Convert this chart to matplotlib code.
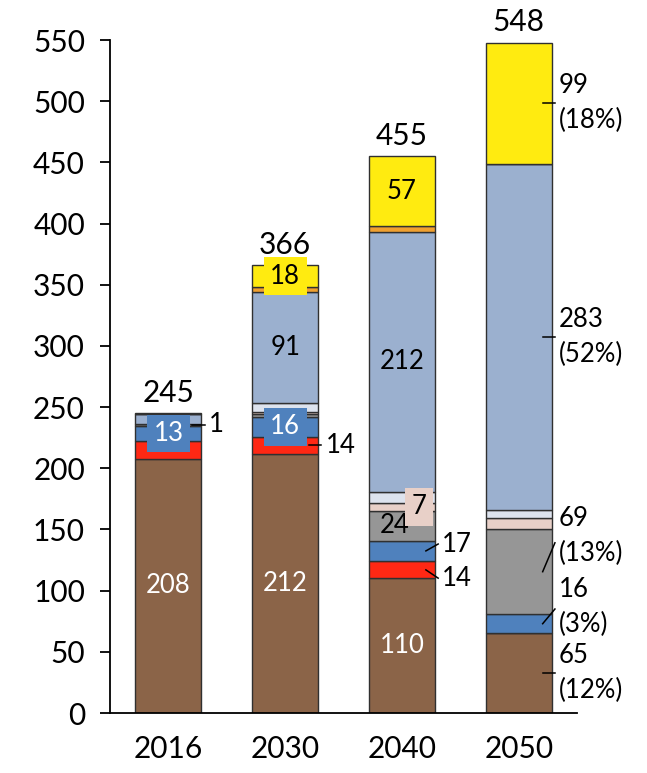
import matplotlib.pyplot as plt
import numpy as np

plt.rcParams["font.family"] = ["Lato", "DejaVu Sans"]

years = ["2016", "2030", "2040", "2050"]

# stacked series, bottom to top
brown = [208, 212, 110, 65]
red = [14, 14, 14, 0]
blue = [13, 16, 17, 16]
gray = [1, 2, 24, 69]
pink = [0, 2, 7, 9]
pale = [0, 7, 9, 7]
steel = [8, 91, 212, 283]
orange = [0, 4, 5, 0]
yellow = [1, 18, 57, 99]
totals = [245, 366, 455, 548]

series = [brown, red, blue, gray, pink, pale, steel, orange, yellow]
colors = ["#8B6448", "#FF2814", "#4F81BD", "#969696", "#E8D0C8",
          "#DDE3EE", "#9BB0CF", "#F0A030", "#FFEB10"]

fig = plt.figure(figsize=(6.47, 7.73), dpi=100)
ax = fig.add_axes([0.170, 0.0776, 0.722, 0.8705])

x = np.arange(len(years))
width = 0.566
bottom = np.zeros(len(years))
mids = []
for vals, col in zip(series, colors):
    vals = np.asarray(vals, dtype=float)
    ax.bar(x, vals, width, bottom=bottom, color=col, edgecolor="#303030",
           linewidth=1.0, zorder=2)
    mids.append(bottom + vals / 2)
    bottom = bottom + vals

ax.set_xlim(-0.5, 3.5)
ax.set_ylim(0, 550)
ax.set_yticks(np.arange(0, 551, 50))
ax.set_xticks(x)
ax.set_xticklabels(years)
ax.tick_params(axis="y", labelsize=21.5, length=7, width=1.3, pad=11)
ax.tick_params(axis="x", labelsize=21.5, length=0, pad=16)
for s in ["top", "right"]:
    ax.spines[s].set_visible(False)
for s in ["left", "bottom"]:
    ax.spines[s].set_linewidth(1.3)

for xi, t in zip(x, totals):
    ax.text(xi, t + 5, str(t), ha="center", va="bottom", fontsize=21.5)

# labels inside segments: (bar, series, text, colour, bbox colour, dx)
inside = [
    (0, 0, "208", "white", None, 0),
    (0, 2, "13", "white", colors[2], 0),
    (1, 0, "212", "white", None, 0),
    (1, 2, "16", "white", colors[2], 0),
    (1, 6, "91", "black", None, 0),
    (1, 8, "18", "black", colors[8], 0),
    (2, 0, "110", "white", None, 0),
    (2, 3, "24", "black", None, -0.065),
    (2, 4, "7", "black", colors[4], 0.145),
    (2, 6, "212", "black", None, 0),
    (2, 8, "57", "black", None, 0),
]
for b, s, txt, tc, bc, dx in inside:
    kw = {}
    if bc is not None:
        kw["bbox"] = dict(boxstyle="square,pad=0.25", fc=bc, ec="none")
    ax.text(x[b] + dx, mids[s][b], txt, ha="center", va="center",
            fontsize=18.5, color=tc, zorder=4, **kw)

# labels outside with leader lines: (bar, series, text, text y or None)
outside = [
    (0, 3, "1", None),
    (1, 1, "14", None),
    (2, 2, "17", 138),
    (2, 1, "14", 110),
    (3, 8, "99\n(18%)", None),
    (3, 6, "283\n(52%)", None),
    (3, 3, "69\n(13%)", 145),
    (3, 2, "16\n(3%)", 87),
    (3, 0, "65\n(12%)", None),
]
for b, s, txt, ty in outside:
    y0 = mids[s][b]
    y1 = y0 if ty is None else ty
    x0 = x[b] + 0.205
    x1 = x[b] + 0.31
    yl = y1 if ty is None else y1 + (y0 - y1) * 0.25 + (1.5 if y0 < y1 else -1.5)
    ax.plot([x0, x1], [y0, yl if ty is not None else y0], color="black",
            lw=1.1, zorder=5, clip_on=False)
    ax.text(x[b] + 0.345, y1, txt, ha="left", va="center", fontsize=18.5,
            linespacing=1.5, clip_on=False)

fig.savefig("out.png", dpi=100)
